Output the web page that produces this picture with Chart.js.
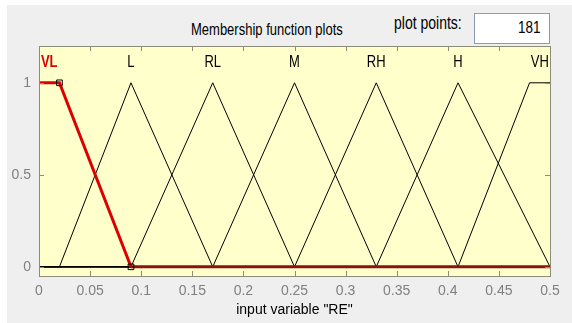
<!DOCTYPE html>
<html>
<head>
<meta charset="utf-8">
<script src="https://cdn.jsdelivr.net/npm/chart.js@4.4.1/dist/chart.umd.min.js"></script>
<style>
  html, body { margin: 0; padding: 0; background: #ffffff; }
  #wrap { position: relative; width: 572px; height: 323px; overflow: hidden; }
  #panel { position: absolute; left: 7px; top: 5px; width: 565px; height: 318px; background: #efefef; }
  #chart { position: absolute; left: 0; top: 0; width: 572px; height: 323px; }
  .txt { position: absolute; font-family: "Liberation Sans", Arial, sans-serif; color: #000; white-space: nowrap;
         line-height: 15px; transform: scaleY(1.25); transform-origin: 0 0; }
  #box { position: absolute; left: 474px; top: 13px; width: 74px; height: 29px; background: #fff; border: 1px solid #8a9bb0; }
</style>
</head>
<body>
<div id="wrap">
  <div id="panel"></div>
  <div class="txt" style="left:191px; top:20px; font-size:13px;">Membership function plots</div>
  <div class="txt" style="left:394px; top:14px; font-size:14px;">plot points:</div>
  <div id="box"></div>
  <div class="txt" style="left:518px; top:18px; font-size:13.5px;">181</div>
  <div id="chart"><canvas id="c"></canvas></div>
</div>
<script>
// membership functions of input variable "RE"
const mfNames = ["VL", "L", "RL", "M", "RH", "H", "VH"];
const vl = [0, 0, 0.02, 0.09];      // trapmf
const l  = [0.02, 0.09, 0.17];      // trimf
const rl = [0.09, 0.17, 0.25];
const m  = [0.17, 0.25, 0.33];
const rh = [0.25, 0.33, 0.41];
const h  = [0.33, 0.41, 0.5];
const vh = [0.41, 0.48, 0.5, 0.5];  // trapmf
const xTicks = [0, 0.05, 0.1, 0.15, 0.2, 0.25, 0.3, 0.35, 0.4, 0.45, 0.5];
const yTicks = [0, 0.5, 1];
const xRange = [0, 0.5];
const yRange = [-0.05, 1.2];

const params = [vl, l, rl, m, rh, h, vh];

function vertices(p) {
    // corner points of a tri / trap mf, extended with zeros to the range ends
    const tops = p.length === 3 ? [[p[1], 1]] : [[p[1], 1], [p[2], 1]];
    const first = p[0], last = p[p.length - 1];
    let pts = [];
    if (first > xRange[0]) pts.push([xRange[0], 0], [first, 0]);
    pts = pts.concat(tops);
    if (last < xRange[1]) pts.push([last, 0], [xRange[1], 0]);
    else if (p.length === 3) pts.push([last, 0]);
    return pts.map(([x, y]) => ({ x, y }));
}

function labelX(p) {
    return p.length === 3 ? p[1] : (p[1] + p[2]) / 2;
}

const datasets = params.map((p, i) => ({
    label: mfNames[i],
    data: vertices(p),
    borderColor: i === 0 ? "#dd0000" : "#000000",
    borderWidth: i === 0 ? 3 : 1,
    pointRadius: 0,
    order: i === 0 ? 1 : 2,
    clip: 4,
    segment: i === 0 ? {
        // the zero part of the selected mf shows darker
        borderColor: (c) => (c.p0.parsed.y === 0 && c.p1.parsed.y === 0) ? "#8a1212" : undefined
    } : undefined
}));

// square handles on the selected mf
datasets.push({
    label: "handles",
    data: [{ x: vl[2], y: 1 }, { x: vl[3], y: 0 }],
    showLine: false,
    pointStyle: "rect",
    pointRadius: 4,
    pointBackgroundColor: "rgba(0,0,0,0)",
    pointBorderColor: "#000",
    pointBorderWidth: 1,
    order: 0
});

const axesBox = {
    id: "axesBox",
    beforeDatasetsDraw(chart) {
        const { ctx, chartArea: a } = chart;
        ctx.save();
        ctx.fillStyle = "#ffffcc";
        ctx.fillRect(a.left, a.top, a.right - a.left, a.bottom - a.top);
        ctx.restore();
    },
    afterDatasetsDraw(chart) {
        const { ctx, chartArea: a, scales } = chart;
        ctx.save();
        ctx.strokeStyle = "#8c8c78";
        ctx.lineWidth = 1;
        ctx.beginPath();
        xTicks.forEach(v => {
            const x = Math.round(scales.x.getPixelForValue(v)) + 0.5;
            ctx.moveTo(x, a.bottom); ctx.lineTo(x, a.bottom - 5);
            ctx.moveTo(x, a.top); ctx.lineTo(x, a.top + 5);
        });
        yTicks.forEach(v => {
            const y = Math.round(scales.y.getPixelForValue(v)) + 0.5;
            ctx.moveTo(a.left, y); ctx.lineTo(a.left + 5, y);
            ctx.moveTo(a.right, y); ctx.lineTo(a.right - 5, y);
        });
        ctx.stroke();
        ctx.strokeRect(Math.round(a.left) + 0.5, Math.round(a.top) + 0.5,
            Math.round(a.right - a.left), Math.round(a.bottom - a.top));

        // mf names above the curves
        ctx.textAlign = "center";
        ctx.textBaseline = "middle";
        const ly = scales.y.getPixelForValue(1.11);
        params.forEach((p, i) => {
            ctx.save();
            ctx.translate(scales.x.getPixelForValue(labelX(p)), ly);
            ctx.scale(1, 1.25);
            ctx.fillStyle = i === 0 ? "#dd0000" : "#000";
            ctx.font = (i === 0 ? "bold " : "") + "13px 'Liberation Sans', Arial, sans-serif";
            ctx.fillText(mfNames[i], 0, 0);
            ctx.restore();
        });
        ctx.restore();
    }
};

const tickFont = { family: "'Liberation Sans', Arial, sans-serif", size: 14 };

new Chart(document.getElementById("c"), {
    type: "line",
    data: { datasets },
    options: {
        responsive: true,
        maintainAspectRatio: false,
        animation: false,
        events: [],
        layout: { padding: { left: 0, top: 46, right: 22, bottom: 0 } },
        plugins: { legend: { display: false }, tooltip: { enabled: false } },
        scales: {
            x: {
                type: "linear",
                min: xRange[0],
                max: xRange[1],
                afterBuildTicks: (s) => { s.ticks = xTicks.map(v => ({ value: v })); },
                afterFit: (s) => { s.height = 47; },
                grid: { display: false, tickLength: 7 },
                border: { display: false },
                ticks: {
                    color: "#808080",
                    font: tickFont,
                    padding: 0,
                    maxRotation: 0,
                    autoSkip: false,
                    callback: (v) => String(v)
                },
                title: {
                    display: true,
                    text: 'input variable "RE"',
                    color: "#000",
                    font: { family: tickFont.family, size: 14 },
                    padding: { top: 0, bottom: 4 }
                }
            },
            y: {
                type: "linear",
                min: yRange[0],
                max: yRange[1],
                afterBuildTicks: (s) => { s.ticks = yTicks.map(v => ({ value: v })); },
                afterFit: (s) => { s.width = 39; },
                grid: { display: false, tickLength: 7 },
                border: { display: false },
                ticks: {
                    color: "#808080",
                    font: tickFont,
                    padding: 1,
                    callback: (v) => String(v)
                }
            }
        }
    },
    plugins: [axesBox]
});
</script>
</body>
</html>
